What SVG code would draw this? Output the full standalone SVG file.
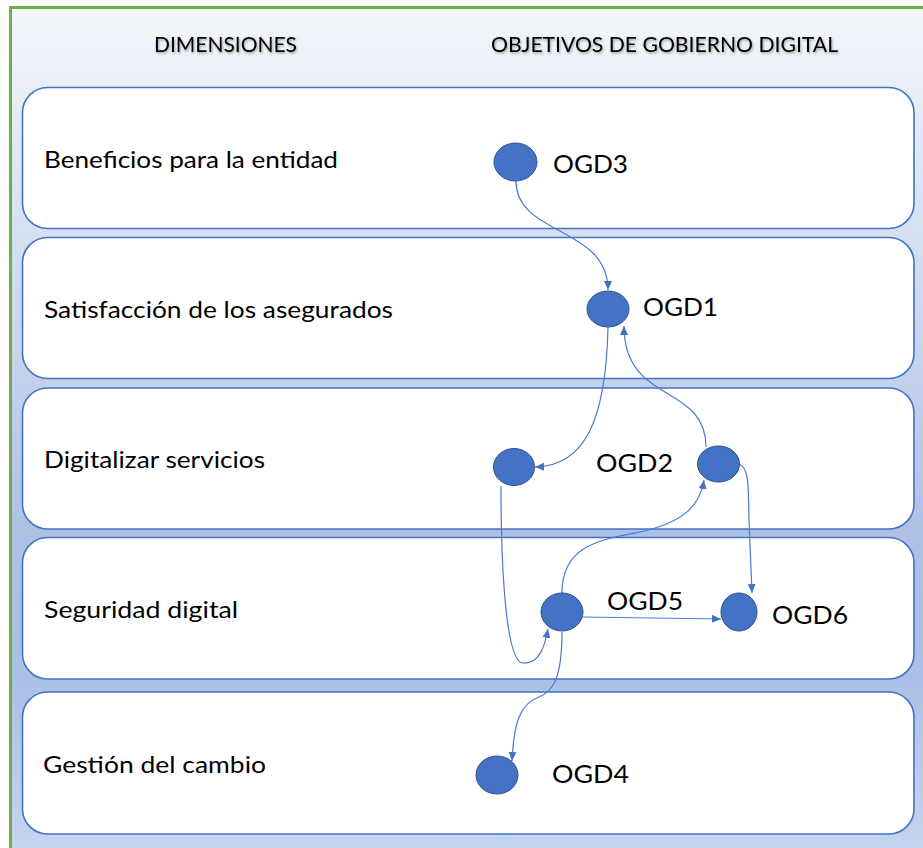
<svg xmlns="http://www.w3.org/2000/svg" width="923" height="848" viewBox="0 0 923 848">
<style>
.band{fill:#ffffff;stroke:#4472c4;stroke-width:1.6}
.dim{font-family:Lato,"Open Sans","Liberation Sans",sans-serif;font-size:22.5px;fill:#000}
.hdr{font-family:Lato,"Open Sans","Liberation Sans",sans-serif;font-size:20.5px;fill:#000}
.lbl{font-family:Lato,"Open Sans","Liberation Sans",sans-serif;font-size:25.5px;fill:#000}
.dot{fill:#4472c4;stroke:#2f528f;stroke-width:1}
.con{fill:none;stroke:#4a7bd0;stroke-width:1.2;marker-end:url(#arr)}
</style>
<defs>
<linearGradient id="bg" x1="0" y1="8" x2="0" y2="848" gradientUnits="userSpaceOnUse">
<stop offset="0" stop-color="#f4f6fa"/>
<stop offset="0.26" stop-color="#d6e0f1"/>
<stop offset="0.43" stop-color="#c4d3ee"/>
<stop offset="0.62" stop-color="#aec1e5"/>
<stop offset="0.8" stop-color="#abc0e5"/>
<stop offset="1" stop-color="#c5d5ef"/>
</linearGradient>
<marker id="arr" markerWidth="10" markerHeight="10" refX="9" refY="5" orient="auto" markerUnits="userSpaceOnUse">
<path d="M0,1 L9,5 L0,9 Z" fill="#4472c4"/>
</marker>
<filter id="sh" x="-5%" y="-30%" width="110%" height="160%">
<feDropShadow dx="1" dy="1.5" stdDeviation="0.8" flood-color="#000" flood-opacity="0.35"/>
</filter>
</defs>
<rect x="0" y="0" width="923" height="848" fill="#ffffff"/>
<rect x="10" y="7" width="913" height="841" fill="url(#bg)"/>
<line x1="9" y1="7.5" x2="923" y2="7.5" stroke="#70ad47" stroke-width="3"/>
<line x1="10.5" y1="6" x2="10.5" y2="848" stroke="#70ad47" stroke-width="3"/>

<g id="headers" filter="url(#sh)">
<text class="hdr" x="154" y="52" textLength="143" lengthAdjust="spacingAndGlyphs">DIMENSIONES</text>
<text class="hdr" x="491" y="52" textLength="347" lengthAdjust="spacingAndGlyphs">OBJETIVOS DE GOBIERNO DIGITAL</text>
</g>

<g id="dim1"><rect class="band" x="22.5" y="87.5" width="891.5" height="141" rx="25"/>
<text class="dim" x="44" y="168" textLength="294" lengthAdjust="spacingAndGlyphs">Beneficios para la entidad</text></g>
<g id="dim2"><rect class="band" x="22.5" y="237.5" width="891.5" height="141" rx="25"/>
<text class="dim" x="44" y="318" textLength="349" lengthAdjust="spacingAndGlyphs">Satisfacción de los asegurados</text></g>
<g id="dim3"><rect class="band" x="22.5" y="388" width="891.5" height="141" rx="25"/>
<text class="dim" x="44" y="468" textLength="221" lengthAdjust="spacingAndGlyphs">Digitalizar servicios</text></g>
<g id="dim4"><rect class="band" x="22.5" y="537.5" width="891.5" height="141.5" rx="25"/>
<text class="dim" x="44" y="618" textLength="194" lengthAdjust="spacingAndGlyphs">Seguridad digital</text></g>
<g id="dim5"><rect class="band" x="22.5" y="692" width="891.5" height="142" rx="25"/>
<text class="dim" x="43" y="773" textLength="223" lengthAdjust="spacingAndGlyphs">Gestión del cambio</text></g>

<g id="connectors">
<path class="con" d="M516,181 C516,236 608,226 608,290"/>
<path class="con" d="M608,327 C606,420 585,466 535,467"/>
<path class="con" d="M706,447 C706,383 624,405 624,326"/>
<path class="con" d="M739,464 C750,468 748,490 749,520 L752,593"/>
<path class="con" d="M501,486 C501,570 506,662 523,663 C540,664 545,645 548,629"/>
<path class="con" d="M562,593 C562,545 600,540 640,532 C685,522 700,505 704,480"/>
<path class="con" d="M583,617 L721,619"/>
<path class="con" d="M562,632 C562,680 552,692 539,697 C520,704 514,722 512,761"/>
</g>

<g id="OGD3"><ellipse class="dot" cx="515.5" cy="162" rx="21.5" ry="19"/>
<text class="lbl" x="553" y="173" textLength="75" lengthAdjust="spacingAndGlyphs">OGD3</text></g>
<g id="OGD1"><ellipse class="dot" cx="608" cy="309" rx="21" ry="18"/>
<text class="lbl" x="643" y="316" textLength="75" lengthAdjust="spacingAndGlyphs">OGD1</text></g>
<g id="OGD2"><ellipse class="dot" cx="514" cy="467" rx="20.5" ry="18.5"/>
<text class="lbl" x="596" y="472" textLength="77" lengthAdjust="spacingAndGlyphs">OGD2</text></g>
<g id="node-right"><ellipse class="dot" cx="718.5" cy="464" rx="21" ry="18"/></g>
<g id="OGD5"><ellipse class="dot" cx="562" cy="612" rx="21" ry="19"/>
<text class="lbl" x="607" y="610" textLength="76" lengthAdjust="spacingAndGlyphs">OGD5</text></g>
<g id="OGD6"><ellipse class="dot" cx="739" cy="612" rx="18" ry="19"/>
<text class="lbl" x="772" y="624" textLength="76" lengthAdjust="spacingAndGlyphs">OGD6</text></g>
<g id="OGD4"><ellipse class="dot" cx="497" cy="775" rx="21" ry="19"/>
<text class="lbl" x="552" y="783" textLength="77" lengthAdjust="spacingAndGlyphs">OGD4</text></g>
</svg>
